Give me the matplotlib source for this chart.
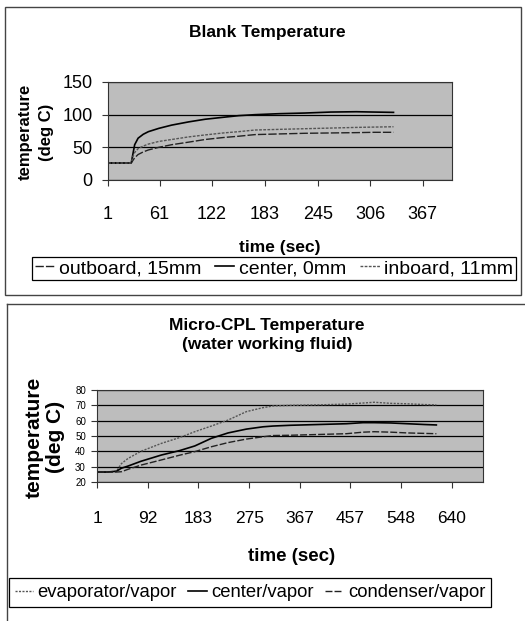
import matplotlib
matplotlib.use("Agg")
import matplotlib.pyplot as plt
from matplotlib.patches import Rectangle
from matplotlib.lines import Line2D

plt.rcParams['font.family'] = ['Liberation Sans', 'DejaVu Sans']

# ---------------- data: Blank Temperature ----------------
blank_time = [1, 10, 20, 28, 30, 32, 36, 42, 48, 60, 75, 95, 114, 135, 153,
              172, 200, 230, 260, 290, 310, 333]
blank_center = [26, 26, 26, 26, 40, 54, 64, 70, 74, 79, 84, 89, 93, 96, 98.5,
                100, 101.5, 102.5, 104, 104.5, 104, 103.5]
blank_inboard = [26, 26, 26, 26, 36, 42, 48, 52, 55, 59, 62, 66, 69, 72, 74,
                 76.5, 77.5, 78.5, 79.5, 80.5, 81, 81.5]
blank_outboard = [26, 26, 26, 26, 30, 34, 39, 43, 46, 50, 54, 58, 62, 65, 67,
                  69.5, 70.5, 71.5, 72, 72.5, 73, 73]
blank_xticks = [1, 61, 122, 183, 245, 306, 367]
blank_yticks = [0, 50, 100, 150]

# ---------------- data: Micro-CPL Temperature ----------------
cpl_time = [1, 20, 36, 45, 57, 80, 117, 150, 177, 207, 237, 270, 300, 318,
            350, 400, 450, 480, 500, 530, 560, 590, 612]
cpl_evap = [26.5, 26.5, 27, 32, 35.4, 40, 45.2, 49, 52.8, 56.5, 60.4, 65.9,
            68.5, 69.6, 70, 70.3, 70.8, 71.5, 72, 71.3, 71, 70.5, 70.3]
cpl_center = [26.5, 26.5, 27, 29, 30.4, 33.5, 37.6, 40.5, 43.5, 48.5, 52,
              54.5, 56, 56.5, 57, 57.5, 58, 58.7, 58.7, 58.5, 58, 57.5, 57.2]
cpl_cond = [26.5, 26.5, 26.5, 26.7, 28.3, 31, 34.4, 37.5, 39.8, 43, 45.7,
            48, 49.5, 50.3, 50.5, 51, 51.5, 52.5, 52.8, 52.5, 52, 51.7, 51.5]
cpl_xticks = [1, 92, 183, 275, 367, 457, 548, 640]
cpl_yticks = [20, 30, 40, 50, 60, 70, 80]

W, H = 525, 621
fig = plt.figure(figsize=(W / 100, H / 100), dpi=100)
fig.patch.set_facecolor('white')


def axrect(l, t, r, b):
    return [l / W, 1 - b / H, (r - l) / W, (b - t) / H]


def style(ax):
    ax.set_facecolor('#bdbdbd')
    for s in ax.spines.values():
        s.set_color('#333333')
        s.set_linewidth(0.8)
    ax.yaxis.grid(True, color='black', linewidth=0.9)
    ax.set_axisbelow(True)
    ax.tick_params(direction='out', length=4, width=0.8, color='#333333')


# outer frames
fig.add_artist(Rectangle((5 / W, 1 - 295 / H), 516 / W, 288 / H,
                         transform=fig.transFigure, fill=False,
                         edgecolor='#444444', linewidth=1.0))
fig.add_artist(Line2D([7 / W, 7 / W], [1 - 304 / H, 0],
                      transform=fig.transFigure, color='#444444', linewidth=1.0))
fig.add_artist(Line2D([7 / W, 1], [1 - 304 / H, 1 - 304 / H],
                      transform=fig.transFigure, color='#444444', linewidth=1.0))

# ---------------- top chart ----------------
ax1 = fig.add_axes(axrect(108, 82, 452, 180))
style(ax1)
l1, = ax1.plot(blank_time, blank_outboard, color='#222222', lw=1.0,
               ls=(0, (6, 1.5)), label='outboard, 15mm')
l2, = ax1.plot(blank_time, blank_center, color='black', lw=1.2,
               label='center, 0mm')
l3, = ax1.plot(blank_time, blank_inboard, color='#555555', lw=1.0,
               ls=(0, (2, 1)), label='inboard, 11mm')
ax1.set_xlim(1, 401)
ax1.set_ylim(0, 150)
ax1.set_xticks(blank_xticks)
ax1.set_yticks(blank_yticks)
ax1.tick_params(axis='x', labelsize=13, pad=15)
ax1.tick_params(axis='y', labelsize=13, pad=7)
ax1.set_title('Blank Temperature', fontsize=12.5, fontweight='bold',
              x=0.462, y=1.51, va='center', pad=0)
ax1.set_xlabel('time (sec)', fontsize=12.5, fontweight='bold', va='center')
ax1.xaxis.set_label_coords(0.5, -0.684)
ax1.set_ylabel('temperature\n(deg C)', fontsize=12, fontweight='bold',
               va='center', ha='center', linespacing=1.5)
ax1.yaxis.set_label_coords(-0.21, 0.49)

leg1 = fig.legend(handles=[l1, l2, l3], loc='center',
                  bbox_to_anchor=(274 / W, 1 - 268.5 / H), ncol=3,
                  fontsize=14, handlelength=1.0, handletextpad=0.25,
                  columnspacing=0.7, borderpad=0.15, fancybox=False,
                  framealpha=1, edgecolor='black')
leg1.get_frame().set_linewidth(0.9)

# ---------------- bottom chart ----------------
ax2 = fig.add_axes(axrect(97, 390, 483, 482))
style(ax2)
m1, = ax2.plot(cpl_time, cpl_evap, color='#555555', lw=1.0,
               ls=(0, (1.5, 1)), label='evaporator/vapor')
m2, = ax2.plot(cpl_time, cpl_center, color='black', lw=1.2,
               label='center/vapor')
m3, = ax2.plot(cpl_time, cpl_cond, color='#222222', lw=1.0,
               ls=(0, (5, 1.5)), label='condenser/vapor')
ax2.set_xlim(1, 696)
ax2.set_ylim(20, 80)
ax2.set_xticks(cpl_xticks)
ax2.set_yticks(cpl_yticks)
ax2.tick_params(axis='x', labelsize=12.5, pad=17)
ax2.tick_params(axis='y', labelsize=7, pad=4)
ax2.set_title('Micro-CPL Temperature\n(water working fluid)', fontsize=12.5,
              fontweight='bold', x=0.44, y=1.598, va='center',
              linespacing=1.4, pad=0)
ax2.set_xlabel('time (sec)', fontsize=13.5, fontweight='bold', va='center')
ax2.xaxis.set_label_coords(0.503, -0.815)
ax2.set_ylabel('temperature\n(deg C)', fontsize=15, fontweight='bold',
               va='center', ha='center', linespacing=1.15)
ax2.yaxis.set_label_coords(-0.135, 0.489)

leg2 = fig.legend(handles=[m1, m2, m3], loc='center',
                  bbox_to_anchor=(250 / W, 1 - 592.5 / H), ncol=3,
                  fontsize=13.3, handlelength=1.0, handletextpad=0.25,
                  columnspacing=0.6, borderpad=0.3, fancybox=False,
                  framealpha=1, edgecolor='black')
leg2.get_frame().set_linewidth(0.9)

fig.savefig('out.png', dpi=100)
